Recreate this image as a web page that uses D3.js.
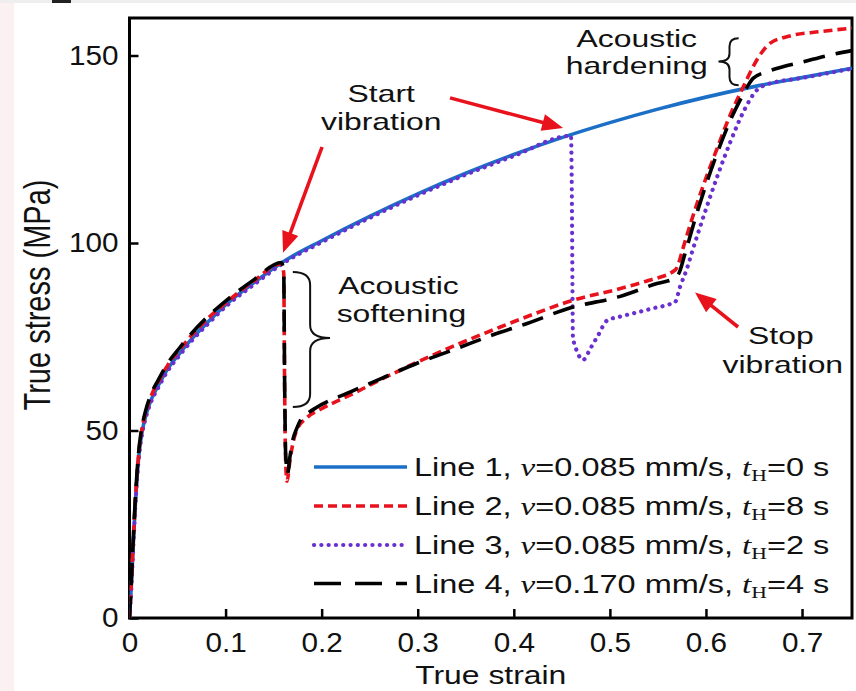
<!DOCTYPE html>
<html><head><meta charset="utf-8">
<script src="https://cdn.jsdelivr.net/npm/d3@7"></script>
<style>
html,body{margin:0;padding:0;background:#fff;}
svg{display:block;}
</style></head>
<body>
<svg id="chart" width="856" height="691"></svg>
<script>
// ---------------- data (strain, stress MPa) ----------------
const line1 = [[0,0],[0.002,9],[0.004,20],[0.006,30],[0.008,38],[0.010,44],[0.013,49.5],[0.017,54],[0.023,58.5],[0.030,62],[0.040,66.5],[0.052,70.5],[0.065,74.5],[0.080,78.5],[0.100,83.5],[0.130,89.5],[0.160,95],[0.200,100.6],[0.250,107.1],[0.300,113.1],[0.350,118.6],[0.400,123.6],[0.450,128.1],[0.500,132.1],[0.550,135.7],[0.600,138.9],[0.650,141.7],[0.700,144.1],[0.752,146.6]];
const line2 = [[0,0],[0.002,10],[0.004,21],[0.006,31],[0.008,39],[0.010,45],[0.013,50.5],[0.017,55],[0.023,59.5],[0.030,63],[0.040,67.5],[0.052,71.5],[0.065,75.5],[0.080,79.5],[0.100,84],[0.130,90],[0.158,94.5],[0.1605,92],[0.1615,60],[0.1625,42],[0.164,36.5],[0.167,42],[0.170,46.5],[0.174,50],[0.185,53.5],[0.200,55.8],[0.230,59.5],[0.265,64],[0.300,68.3],[0.340,72.8],[0.386,77.6],[0.410,80],[0.460,84.6],[0.510,87.8],[0.540,90],[0.568,92.8],[0.572,95],[0.576,98.5],[0.590,110],[0.611,124.8],[0.625,134],[0.639,141.7],[0.649,147],[0.658,150.8],[0.667,153.3],[0.687,155.2],[0.720,156.4],[0.752,157.3]];
const line3 = [[0,0],[0.002,8.5],[0.004,19.5],[0.006,29.5],[0.008,37.5],[0.010,43.5],[0.013,49],[0.017,53.5],[0.023,58],[0.030,61.5],[0.040,66],[0.052,70],[0.065,74],[0.080,78],[0.100,83],[0.130,89],[0.160,94.6],[0.200,100.2],[0.250,106.7],[0.300,112.7],[0.350,118.2],[0.400,123.2],[0.4595,128.6],[0.4605,110],[0.461,90],[0.4615,75],[0.466,71],[0.472,68.8],[0.480,72],[0.488,75.5],[0.497,79.3],[0.511,80.4],[0.530,81.6],[0.545,82.6],[0.560,83.5],[0.568,84.3],[0.573,88.3],[0.580,93],[0.586,98],[0.600,109],[0.625,126.7],[0.640,135.5],[0.652,140.5],[0.665,142.4],[0.700,144],[0.752,146.5]];
const line4 = [[0,0],[0.002,10.5],[0.004,21.5],[0.006,31.5],[0.008,39.5],[0.010,45.5],[0.013,51],[0.017,55.5],[0.023,60],[0.030,63.5],[0.040,68],[0.052,72],[0.065,76],[0.080,80],[0.100,84.5],[0.130,90.3],[0.158,94.8],[0.1605,92.5],[0.1615,62],[0.1625,44],[0.1645,38.5],[0.167,43],[0.170,47.5],[0.174,50.5],[0.178,52.8],[0.186,54.7],[0.195,56.2],[0.230,60.3],[0.265,64.2],[0.300,68],[0.340,71.8],[0.386,76.2],[0.410,78.2],[0.460,82.8],[0.510,85.7],[0.549,89.2],[0.566,90.5],[0.572,92],[0.578,97],[0.590,107.5],[0.611,123.5],[0.625,132.5],[0.639,139.8],[0.645,142.5],[0.649,143.9],[0.665,145.8],[0.680,147],[0.701,148.3],[0.725,149.9],[0.752,151.3]];

const seriesNames = ["Line 1","Line 2","Line 3","Line 4"];
const speeds = ["0.085","0.085","0.085","0.170"];
const holdTimes = ["0","8","2","4"];
const xTicks = [0,0.1,0.2,0.3,0.4,0.5,0.6,0.7];
const yTicks = [0,50,100,150];
const xTitle = "True strain";
const yTitle = "True stress (MPa)";

// ---------------- setup ----------------
const svg = d3.select("#chart");
const SANS = "'Liberation Sans', Arial, Helvetica, sans-serif";
const SERIF = "'Liberation Serif', 'Times New Roman', serif";
const pLeft = 129.5, pRight = 852, pTop = 18, pBottom = 618;
const x = d3.scaleLinear().domain([0, 0.752]).range([pLeft, pRight]);
const y = d3.scaleLinear().domain([0, 160]).range([pBottom, pTop]);

// faint background artifacts (cropped page edges)
svg.append("rect").attr("x",0).attr("y",0).attr("width",14).attr("height",691).attr("fill","#fcf1f1");
svg.append("rect").attr("x",0).attr("y",0).attr("width",856).attr("height",3).attr("fill","#eeeeee");
svg.append("rect").attr("x",52).attr("y",0).attr("width",19).attr("height",3).attr("fill","#222");

// clip
svg.append("clipPath").attr("id","clip").append("rect")
  .attr("x",pLeft).attr("y",pTop).attr("width",pRight-pLeft).attr("height",pBottom-pTop);

// axes
const xAxis = d3.axisBottom(x).tickValues(xTicks).tickFormat(d3.format("")).tickSizeInner(-9).tickSizeOuter(0).tickPadding(15);
const yAxis = d3.axisLeft(y).tickValues(yTicks).tickFormat(d3.format("")).tickSizeInner(-9).tickSizeOuter(0).tickPadding(11);

const gx = svg.append("g").attr("transform",`translate(0,${pBottom})`).call(xAxis);
const gy = svg.append("g").attr("transform",`translate(${pLeft},0)`).call(yAxis);
[gx,gy].forEach(g=>{
  g.select(".domain").remove();
  g.selectAll(".tick line").attr("stroke","#000").attr("stroke-width",2.5);
  g.selectAll(".tick text").attr("fill","#111").style("font-family",SANS).style("font-size","27px");
});
gx.selectAll(".tick text").each(function(){
  const t=d3.select(this); const yy=+t.attr("y");
  t.attr("y",0).attr("transform",`translate(0,${yy}) scale(1.1,1)`);
});
gy.selectAll(".tick text").each(function(){
  const t=d3.select(this); const xx=+t.attr("x");
  t.attr("x",0).attr("transform",`translate(${xx},0) scale(1.1,1)`);
});

// frame
svg.append("rect").attr("x",pLeft).attr("y",pTop).attr("width",pRight-pLeft).attr("height",pBottom-pTop)
  .attr("fill","none").attr("stroke","#000").attr("stroke-width",3);

// lines
const lineGen = d3.line().x(d=>x(d[0])).y(d=>y(d[1])).curve(d3.curveMonotoneX);
const styles = {
  l1:{color:"#1b6fc6", dash:null, w:3.6, cap:"butt"},
  l2:{color:"#e8121c", dash:"9,5", w:3.6, cap:"butt"},
  l3:{color:"#6a2fcf", dash:"0.1,7.2", w:4.2, cap:"round"},
  l4:{color:"#000000", dash:"22,11", w:3.6, cap:"butt"}
};
const plot = svg.append("g").attr("clip-path","url(#clip)");
[[line1,styles.l1],[line3,styles.l3],[line2,styles.l2],[line4,styles.l4]].forEach(([data,s])=>{
  plot.append("path").datum(data).attr("d",lineGen).attr("fill","none")
    .attr("stroke",s.color).attr("stroke-width",s.w).attr("stroke-linecap",s.cap)
    .attr("stroke-linejoin","round").attr("stroke-dasharray",s.dash);
});

// text helper (stretched horizontally like the reference)
function label(txt, cx, by, size, sx, anchor){
  return svg.append("text").attr("transform",`translate(${cx},${by}) scale(${sx},1)`)
    .attr("text-anchor",anchor||"middle").style("font-family",SANS).style("font-size",size+"px")
    .attr("fill","#111").text(txt);
}

// axis titles
label(xTitle, (pLeft+pRight)/2, 684, 25.5, 1.25);
svg.append("text").attr("transform","translate(50,295) scale(1.25,1) rotate(-90)")
  .attr("text-anchor","middle").style("font-family",SANS).style("font-size","29px").attr("fill","#111").text(yTitle);

// annotations (anchored in data space)
const ann = [
  {t:"Start", sx:0.262, sy:137.6}, {t:"vibration", sx:0.262, sy:130.1},
  {t:"Acoustic", sx:0.528, sy:152.4}, {t:"hardening", sx:0.528, sy:145.2},
  {t:"Acoustic", sx:0.280, sy:86.3}, {t:"softening", sx:0.283, sy:79.0},
  {t:"Stop", sx:0.678, sy:73.2}, {t:"vibration", sx:0.680, sy:65.4}
];
ann.forEach(a=>label(a.t, x(a.sx), y(a.sy), 24, 1.33));

// arrows
const arrows = [
  {from:[0.2004,125.6], to:[0.1598,97.4]},
  {from:[0.3336,138.7], to:[0.4513,130.7]},
  {from:[0.6334,77.6], to:[0.5886,86.8]}
];
const red = "#e8121c";
arrows.forEach(a=>{
  const x1=x(a.from[0]), y1=y(a.from[1]), x2=x(a.to[0]), y2=y(a.to[1]);
  const ang=Math.atan2(y2-y1,x2-x1), L=21, Wd=8.5;
  const bx=x2-L*Math.cos(ang), by=y2-L*Math.sin(ang);
  svg.append("line").attr("x1",x1).attr("y1",y1).attr("x2",bx+2*Math.cos(ang)).attr("y2",by+2*Math.sin(ang))
    .attr("stroke",red).attr("stroke-width",3.6);
  const px=-Math.sin(ang), py=Math.cos(ang);
  svg.append("path").attr("d",`M${x2},${y2}L${bx+Wd*px},${by+Wd*py}L${bx-Wd*px},${by-Wd*py}Z`).attr("fill",red);
});

// braces
function brace(x0, xm, x1, y0, y1, ym, r){
  const d = `M${x0},${y0} Q${xm},${y0} ${xm},${y0+r} L${xm},${ym-r} Q${xm},${ym} ${x1},${ym} Q${xm},${ym} ${xm},${ym+r} L${xm},${y1-r} Q${xm},${y1} ${x0},${y1}`;
  svg.append("path").attr("d",d).attr("fill","none").attr("stroke","#111").attr("stroke-width",2);
}
// softening brace "}"
brace(x(0.170), x(0.188), x(0.2087), y(92.3), y(56.3), y(74.7), 13);
// hardening brace "{"
brace(x(0.634), x(0.6245), x(0.613), y(154.6), y(142.1), y(148.4), 8);

// legend
const legRows = [0,1,2,3];
const legStyles = [styles.l1, styles.l2, styles.l3, styles.l4];
const legDash = [null, "9,5", "0.1,7.2", "27,14"];
const legY = [467, 506, 545, 583.5];
legRows.forEach(i=>{
  const s = legStyles[i];
  svg.append("line").attr("x1",314).attr("x2",407).attr("y1",legY[i]).attr("y2",legY[i])
    .attr("stroke",s.color).attr("stroke-width",s.w).attr("stroke-linecap",s.cap).attr("stroke-dasharray",legDash[i]);
  const t = svg.append("text").attr("transform",`translate(414,${legY[i]+9}) scale(1.275,1)`)
    .style("font-family",SANS).style("font-size","25.5px").attr("fill","#111");
  t.append("tspan").text(`${seriesNames[i]}, `);
  t.append("tspan").style("font-family",SERIF).style("font-style","italic").style("font-size","26px").text("v");
  t.append("tspan").text(`=${speeds[i]} mm/s, `);
  t.append("tspan").style("font-family",SERIF).style("font-style","italic").style("font-size","26px").text("t");
  t.append("tspan").style("font-family",SERIF).style("font-size","17px").attr("dy",5).text("H");
  t.append("tspan").attr("dy",-5).text(`=${holdTimes[i]} s`);
});
</script>
</body></html>
